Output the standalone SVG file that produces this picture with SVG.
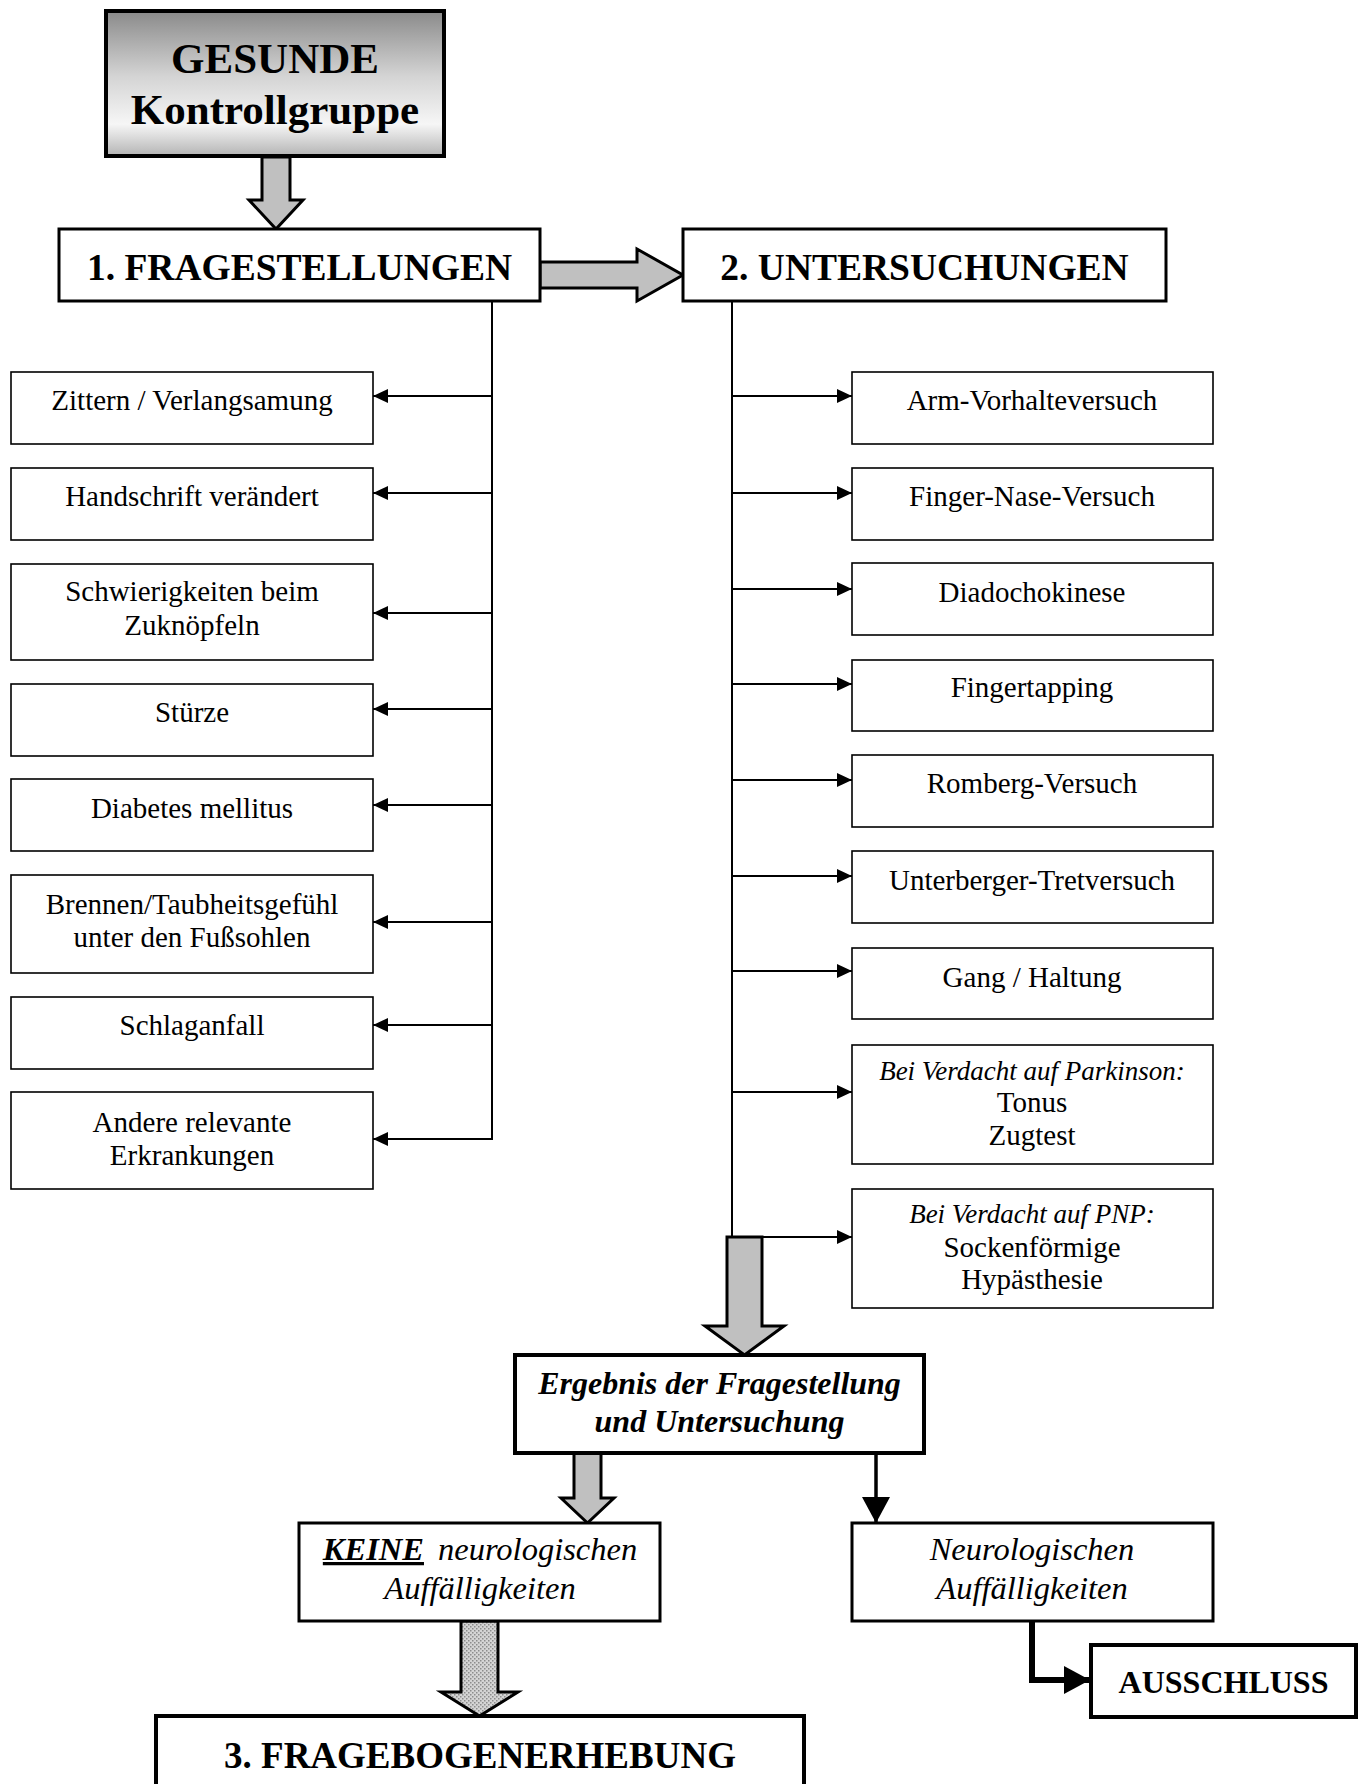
<svg xmlns="http://www.w3.org/2000/svg" width="1365" height="1784" viewBox="0 0 1365 1784">
<style>
.box{fill:#fff;stroke:#000;stroke-width:1.6}
.tbox{fill:#fff;stroke:#000;stroke-width:3}
.hbox{fill:#fff;stroke:#000;stroke-width:4}
.t{font-family:"Liberation Serif","Times New Roman",serif;font-size:29px;text-anchor:middle;fill:#000}
.ti{font-family:"Liberation Serif","Times New Roman",serif;font-size:27px;font-style:italic;text-anchor:middle;fill:#000}
.tr{font-family:"Liberation Serif","Times New Roman",serif;font-size:32.5px;font-style:italic;text-anchor:middle;fill:#000}
.tb{font-family:"Liberation Serif","Times New Roman",serif;font-weight:bold;text-anchor:middle;fill:#000}
.ln{stroke:#000;stroke-width:2;fill:none}
.blk{fill:#c0c0c0;stroke:#000;stroke-width:3;stroke-linejoin:miter}
</style>
<defs>
<linearGradient id="gG" x1="0" y1="0" x2="0" y2="1">
<stop offset="0" stop-color="#8a8a8a"/>
<stop offset="0.45" stop-color="#d4d4d4"/>
<stop offset="0.78" stop-color="#f6f6f6"/>
<stop offset="1" stop-color="#b4b4b4"/>
</linearGradient>
<pattern id="dots" width="4" height="4" patternUnits="userSpaceOnUse">
<rect width="4" height="4" fill="#d4d4d4"/>
<rect x="0" y="0" width="1.5" height="1.5" fill="#8c8c8c"/>
<rect x="2" y="2" width="1.5" height="1.5" fill="#8c8c8c"/>
</pattern>
<marker id="ah" markerUnits="userSpaceOnUse" markerWidth="15" markerHeight="14" refX="15" refY="7" orient="auto">
<path d="M0,0 L15,7 L0,14 z" fill="#000"/>
</marker>
<marker id="ahB" markerUnits="userSpaceOnUse" markerWidth="26" markerHeight="28" refX="26" refY="14" orient="auto">
<path d="M0,0 L26,14 L0,28 z" fill="#000"/>
</marker>
</defs>

<g id="connectors">
<polygon class="blk" points="262,157 290,157 290,200 303,200 276,229 249,200 262,200"/>
<polygon class="blk" points="540,262 637,262 637,249 683,275 637,301 637,288 540,288"/>
<line class="ln" x1="492" y1="301" x2="492" y2="1139"/>
<line class="ln" x1="492" y1="396" x2="373" y2="396" marker-end="url(#ah)"/>
<line class="ln" x1="492" y1="493" x2="373" y2="493" marker-end="url(#ah)"/>
<line class="ln" x1="492" y1="613" x2="373" y2="613" marker-end="url(#ah)"/>
<line class="ln" x1="492" y1="709" x2="373" y2="709" marker-end="url(#ah)"/>
<line class="ln" x1="492" y1="805" x2="373" y2="805" marker-end="url(#ah)"/>
<line class="ln" x1="492" y1="922" x2="373" y2="922" marker-end="url(#ah)"/>
<line class="ln" x1="492" y1="1025" x2="373" y2="1025" marker-end="url(#ah)"/>
<line class="ln" x1="493" y1="1139" x2="373" y2="1139" marker-end="url(#ah)"/>
<line class="ln" x1="732" y1="301" x2="732" y2="1237"/>
<line class="ln" x1="732" y1="396" x2="852" y2="396" marker-end="url(#ah)"/>
<line class="ln" x1="732" y1="493" x2="852" y2="493" marker-end="url(#ah)"/>
<line class="ln" x1="732" y1="589" x2="852" y2="589" marker-end="url(#ah)"/>
<line class="ln" x1="732" y1="684" x2="852" y2="684" marker-end="url(#ah)"/>
<line class="ln" x1="732" y1="780" x2="852" y2="780" marker-end="url(#ah)"/>
<line class="ln" x1="732" y1="876" x2="852" y2="876" marker-end="url(#ah)"/>
<line class="ln" x1="732" y1="971" x2="852" y2="971" marker-end="url(#ah)"/>
<line class="ln" x1="732" y1="1092" x2="852" y2="1092" marker-end="url(#ah)"/>
<line class="ln" x1="732" y1="1237" x2="852" y2="1237" marker-end="url(#ah)"/>
<polygon class="blk" points="727,1237 762,1237 762,1326 784,1326 744.5,1355 705,1326 727,1326"/>
<polygon class="blk" points="574,1453 601,1453 601,1498 614,1498 587.5,1523 561,1498 574,1498"/>
<line x1="876" y1="1453" x2="876" y2="1523" stroke="#000" stroke-width="3.5" marker-end="url(#ahB)"/>
<polygon points="461,1621 498,1621 498,1692 518,1692 479.5,1716 441,1692 461,1692" fill="url(#dots)" stroke="#000" stroke-width="3"/>
<path d="M1032,1621 L1032,1680 L1090,1680" fill="none" stroke="#000" stroke-width="6" marker-end="url(#ahB)"/>
</g>

<g id="gesunde">
<rect x="106" y="11" width="338" height="145" fill="url(#gG)" stroke="#000" stroke-width="4"/>
<text class="tb" x="275" y="73" font-size="43">GESUNDE</text>
<text class="tb" x="275" y="124" font-size="43">Kontrollgruppe</text>
</g>

<g id="fragestellungen">
<rect class="tbox" x="59" y="229" width="481" height="72"/>
<text class="tb" x="299.5" y="280" font-size="37.5">1. FRAGESTELLUNGEN</text>
</g>
<g id="untersuchungen">
<rect class="tbox" x="683" y="229" width="483" height="72"/>
<text class="tb" x="924.5" y="280" font-size="37.5">2. UNTERSUCHUNGEN</text>
</g>

<g id="q1"><rect class="box" x="11" y="372" width="362" height="72"/><text class="t" x="192" y="410">Zittern / Verlangsamung</text></g>
<g id="q2"><rect class="box" x="11" y="468" width="362" height="72"/><text class="t" x="192" y="506">Handschrift verändert</text></g>
<g id="q3"><rect class="box" x="11" y="564" width="362" height="96"/><text class="t" x="192" y="601">Schwierigkeiten beim</text><text class="t" x="192" y="635">Zuknöpfeln</text></g>
<g id="q4"><rect class="box" x="11" y="684" width="362" height="72"/><text class="t" x="192" y="722">Stürze</text></g>
<g id="q5"><rect class="box" x="11" y="779" width="362" height="72"/><text class="t" x="192" y="818">Diabetes mellitus</text></g>
<g id="q6"><rect class="box" x="11" y="875" width="362" height="98"/><text class="t" x="192" y="914">Brennen/Taubheitsgefühl</text><text class="t" x="192" y="947">unter den Fußsohlen</text></g>
<g id="q7"><rect class="box" x="11" y="997" width="362" height="72"/><text class="t" x="192" y="1035">Schlaganfall</text></g>
<g id="q8"><rect class="box" x="11" y="1092" width="362" height="97"/><text class="t" x="192" y="1132">Andere relevante</text><text class="t" x="192" y="1165">Erkrankungen</text></g>

<g id="u1"><rect class="box" x="852" y="372" width="361" height="72"/><text class="t" x="1032" y="410">Arm-Vorhalteversuch</text></g>
<g id="u2"><rect class="box" x="852" y="468" width="361" height="72"/><text class="t" x="1032" y="506">Finger-Nase-Versuch</text></g>
<g id="u3"><rect class="box" x="852" y="563" width="361" height="72"/><text class="t" x="1032" y="602">Diadochokinese</text></g>
<g id="u4"><rect class="box" x="852" y="660" width="361" height="71"/><text class="t" x="1032" y="697">Fingertapping</text></g>
<g id="u5"><rect class="box" x="852" y="755" width="361" height="72"/><text class="t" x="1032" y="793">Romberg-Versuch</text></g>
<g id="u6"><rect class="box" x="852" y="851" width="361" height="72"/><text class="t" x="1032" y="890">Unterberger-Tretversuch</text></g>
<g id="u7"><rect class="box" x="852" y="948" width="361" height="71"/><text class="t" x="1032" y="987">Gang / Haltung</text></g>
<g id="u8"><rect class="box" x="852" y="1045" width="361" height="119"/><text class="ti" x="1032" y="1080">Bei Verdacht auf Parkinson:</text><text class="t" x="1032" y="1112">Tonus</text><text class="t" x="1032" y="1145">Zugtest</text></g>
<g id="u9"><rect class="box" x="852" y="1189" width="361" height="119"/><text class="ti" x="1032" y="1223">Bei Verdacht auf PNP:</text><text class="t" x="1032" y="1257">Sockenförmige</text><text class="t" x="1032" y="1289">Hypästhesie</text></g>

<g id="ergebnis">
<rect class="hbox" x="515" y="1355" width="409" height="98"/>
<text class="tb" x="719.5" y="1394" font-size="32" font-style="italic">Ergebnis der Fragestellung</text>
<text class="tb" x="719.5" y="1432" font-size="32" font-style="italic">und Untersuchung</text>
</g>

<g id="keine">
<rect class="tbox" x="299" y="1523" width="361" height="98"/>
<text class="tr" x="480" y="1560"><tspan font-weight="bold" text-decoration="underline">KEINE</tspan><tspan dx="14">neurologischen</tspan></text>
<text class="tr" x="480" y="1599">Auffälligkeiten</text>
</g>

<g id="neuro">
<rect class="tbox" x="852" y="1523" width="361" height="98"/>
<text class="tr" x="1032" y="1560">Neurologischen</text>
<text class="tr" x="1032" y="1599">Auffälligkeiten</text>
</g>

<g id="ausschluss">
<rect class="hbox" x="1091" y="1645" width="265" height="72"/>
<text class="tb" x="1223.5" y="1693" font-size="32">AUSSCHLUSS</text>
</g>

<g id="fragebogen">
<rect class="hbox" x="156" y="1716" width="648" height="100"/>
<text class="tb" x="480" y="1768" font-size="37">3. FRAGEBOGENERHEBUNG</text>
</g>
</svg>
